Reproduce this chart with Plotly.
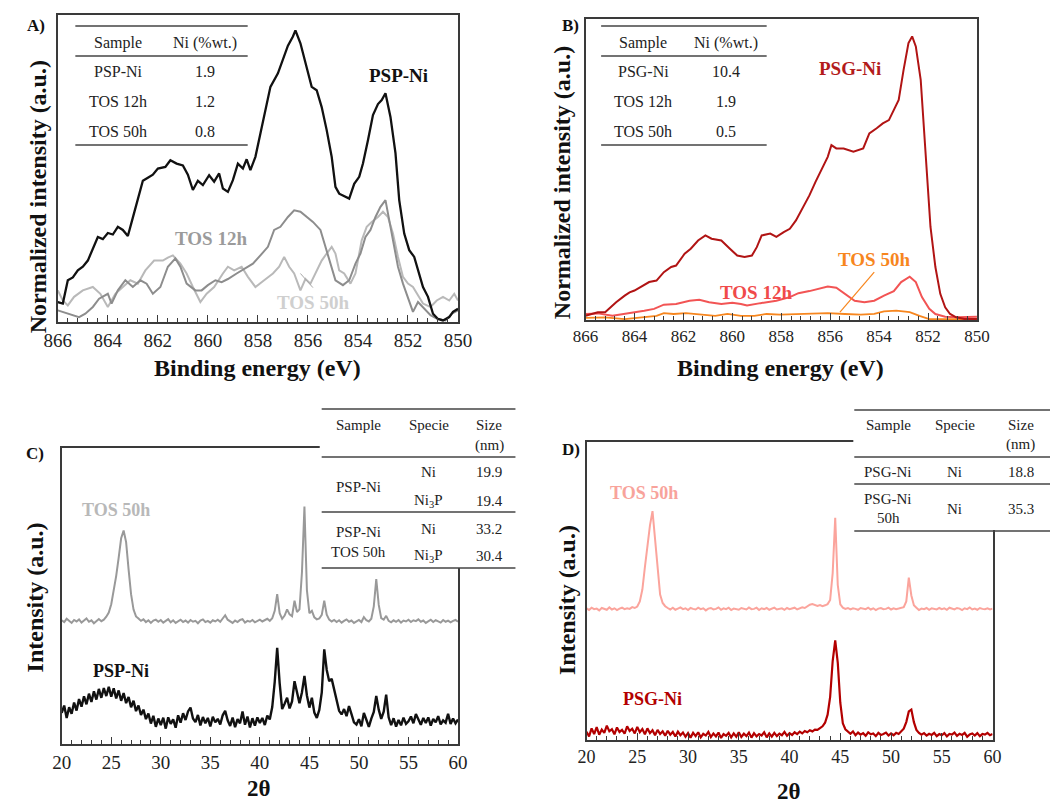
import plotly.graph_objects as go

W, H = 1064, 806
SERIF = "Liberation Serif, Times New Roman, serif"

# ---------------- Panel A (XPS, PSP-Ni) ----------------
A_psp_x = [866.0, 865.8, 865.6, 865.4, 865.2, 865.0, 864.8, 864.6, 864.4, 864.2, 864.0, 863.8, 863.6, 863.4, 863.2, 863.0,
           862.8, 862.6, 862.4, 862.2, 862.0, 861.7, 861.5, 861.25, 861.0, 860.8, 860.6, 860.4, 860.2, 859.95, 859.75,
           859.55, 859.4, 859.2, 859.0, 858.8, 858.6, 858.45, 858.3, 858.1, 857.9, 857.7, 857.5, 857.2, 857.0, 856.8,
           856.6, 856.5, 856.3, 856.05, 855.85, 855.65, 855.45, 855.25, 855.05, 854.9, 854.75, 854.35, 854.15, 853.95,
           853.8, 853.6, 853.4, 853.2, 853.05, 852.9, 852.7, 852.5, 852.35, 852.15, 851.95, 851.75, 851.6, 851.4, 851.2,
           851.0, 850.8, 850.6, 850.35, 850.2, 850.0]
A_psp_y = [6.5, 6, 13.6, 14.5, 16.8, 18, 20, 24, 27.7, 27, 29, 28.5, 31, 30, 28, 34, 40, 46, 47, 48, 50, 50.5, 52.7, 51.6,
           51, 48, 43, 46, 44.6, 47.8, 45.7, 48.4, 43.5, 42.4, 46.2, 51.6, 50, 53, 49.5, 53.8, 61.4, 69, 76.6, 81, 85.3,
           90, 93, 95, 90.8, 83, 76.6, 75.5, 70, 62.5, 53.8, 44, 41.8, 40.2, 45, 47.3, 51.6, 59.2, 67.4, 71, 72.3, 74.5,
           66.8, 55, 39.7, 28.8, 23.4, 21.2, 16.8, 11.4, 8.2, 2.7, 1, 0.5, 1.6, 3.3, 4.3]
A_12_x = [866.0, 865.6, 865.15, 864.9, 864.6, 864.35, 864.0, 863.85, 863.6, 863.3, 863.0, 862.7, 862.45, 862.2, 861.9,
          861.6, 861.3, 861.1, 860.85, 860.5, 860.25, 860.0, 859.7, 859.45, 859.2, 858.85, 858.55, 858.2, 857.9, 857.6,
          857.35, 857.1, 856.8, 856.55, 856.3, 856.05, 855.8, 855.5, 855.25, 855.05, 854.9, 854.6, 854.35, 854.1, 853.9,
          853.7, 853.5, 853.3, 853.1, 852.9, 852.8, 852.6, 852.4, 852.2, 852.0, 851.8, 851.6, 851.4, 851.1, 850.85,
          850.5, 850.25, 850.0]
A_12_y = [3.8, 2.7, 1.6, 2.7, 4.9, 7.6, 9.2, 6, 10.3, 13.6, 11.4, 13.6, 12.5, 9.2, 11.4, 18, 20.7, 18, 12.5, 10.3, 10.3,
          12, 13.6, 13, 14, 15.8, 17.4, 19, 21.7, 24.5, 30, 31, 34.2, 36.4, 35.9, 34.2, 32.6, 30, 23.4, 18, 13.6, 12,
          13.6, 19, 22.3, 27.7, 30, 34.2, 37.5, 39.7, 35.3, 26.6, 18, 12.5, 7.6, 3.3, 6.5, 4.9, 2.2, 1.1, 0.5, 2.7, 3.8]
A_50_x = [866.0, 865.8, 865.6, 865.35, 865.0, 864.6, 864.3, 864.0, 863.7, 863.4, 863.1, 862.8, 862.5, 862.15, 861.8,
          861.6, 861.4, 861.1, 860.85, 860.6, 860.3, 860.05, 859.75, 859.4, 859.2, 858.95, 858.65, 858.4, 858.1, 857.75,
          857.4, 857.15, 856.95, 856.75, 856.55, 856.3, 856.1, 855.9, 855.7, 855.45, 855.25, 855.05, 854.9, 854.75,
          854.55, 854.3, 854.1, 853.85, 853.65, 853.45, 853.2, 853.0, 852.8, 852.6, 852.4, 852.2, 852.0, 851.8, 851.6,
          851.4, 851.1, 850.85, 850.6, 850.35, 850.15, 850.0]
A_50_y = [10.3, 7, 5.4, 8.2, 10.3, 11.4, 9.2, 4.9, 9.2, 11.4, 13.6, 12.5, 16.8, 20, 20, 21, 21.7, 19, 15.8, 11.4, 6.5,
          9.2, 11.4, 15.8, 18, 16.8, 18, 14.7, 11.4, 13.6, 15.8, 18, 21.2, 18, 15.8, 10.3, 14, 12.5, 15.8, 20, 22.3,
          24.5, 22.3, 16.8, 15.8, 12.5, 15.8, 26.6, 31, 32.6, 34.2, 35.9, 34.2, 28.8, 21.2, 14.7, 12.5, 11.4, 8.7, 6,
          4.9, 7, 8.2, 7, 9.2, 7]

# ---------------- Panel B (XPS, PSG-Ni) ----------------
B_psg_x = [866.0, 865.75, 865.5, 865.2, 865.0, 864.75, 864.4, 864.2, 864.0, 863.75, 863.4, 863.1, 862.8, 862.5, 862.3,
           861.95, 861.7, 861.4, 861.1, 860.85, 860.45, 860.1, 859.8, 859.5, 859.2, 859.0, 858.8, 858.45, 858.2, 857.9,
           857.65, 857.4, 857.1, 856.85, 856.6, 856.3, 856.1, 855.95, 855.75, 855.45, 855.05, 854.65, 854.4, 854.1,
           853.85, 853.6, 853.4, 853.2, 853.0, 852.8, 852.65, 852.5, 852.3, 852.1, 851.9, 851.7, 851.5, 851.3, 851.1,
           850.85, 850.5, 850.0]
B_psg_y = [1.4, 2, 2.6, 2.6, 4.2, 5.9, 8.1, 9.2, 9.8, 10.9, 12.6, 13.1, 15.9, 17.6, 18.1, 22, 23.7, 26.4, 28.1, 27, 26.4,
           23.7, 21.4, 20.9, 21.4, 24.2, 28.1, 28.7, 27.6, 29.2, 30.3, 33.1, 37.6, 41.4, 45.9, 50.9, 54.2, 58.1, 57, 57,
           55.9, 57, 62, 63.7, 65.3, 66.4, 69.8, 73.1, 83.1, 92, 94.2, 90.9, 79.8, 56.4, 30.9, 17.6, 8.7, 4.2, 2, 0.9,
           0.3, 0.3]
B_12_x = [866.0, 865.5, 864.9, 864.4, 864.0, 863.6, 863.2, 862.8, 862.3, 861.75, 861.35, 860.95, 860.45, 860.0, 859.65,
          859.4, 858.85, 858.2, 857.65, 857.3, 856.85, 856.45, 856.1, 855.75, 855.4, 855.0, 854.6, 854.2, 853.8, 853.4,
          853.1, 852.75, 852.5, 852.25, 851.95, 851.7, 851.3, 850.8, 850.0]
B_12_y = [2, 2.2, 1.4, 2, 2.6, 3.1, 3.7, 5.1, 5.3, 6.4, 6.7, 5.9, 5.3, 5.7, 5.3, 4.8, 5.6, 6.4, 7.6, 8.9, 9.6, 10.3, 11.1,
          10.7, 8.7, 6.4, 5.9, 6.4, 8.1, 9.6, 12.6, 14.4, 12.6, 7.6, 3.7, 2, 1.1, 0.9, 1.1]
B_50_x = [866.0, 865.2, 864.4, 863.6, 863.1, 862.8, 862.4, 861.9, 861.2, 860.7, 860.2, 859.65, 859.1, 858.6, 858.05,
          857.4, 856.75, 856.1, 855.4, 854.75, 854.2, 853.8, 853.3, 852.75, 852.35, 851.95, 851.0, 850.0]
B_50_y = [0.7, 0.9, 0.3, 0.9, 1.4, 2.3, 2, 2.3, 1.8, 1.4, 2, 1.4, 1.4, 2, 1.8, 2, 2.3, 2.3, 2, 1.8, 2, 2.9, 3.1, 2.6, 1.4,
          0.3, 0.3, 0.3]

# ---------------- Panels C, D (XRD, 2-theta 20..60 step 0.25) ----------------
XRD_START, XRD_STEP = 20.0, 0.25
C_50_y = [41.8, 41.2, 42.3, 41.5, 40.9, 41.9, 41.4, 42.1, 41.0, 41.7, 42.4, 41.3, 41.8, 40.8, 41.6, 42.2, 41.5, 42.0, 43.0, 44.4,
          47.2, 51.5, 56.8, 63.0, 69.5, 72.1, 68.2, 59.0, 50.6, 45.4, 43.1, 42.4, 41.6, 42.1, 41.2, 41.8, 40.9, 41.7, 42.0, 41.3,
          41.9, 41.0, 41.6, 42.2, 41.1, 41.8, 40.9, 41.5, 42.0, 41.2, 41.7, 41.0, 41.9, 41.3, 41.6, 40.8, 41.7, 42.1, 41.2, 41.6,
          41.0, 41.8, 41.4, 42.0, 41.3, 42.4, 43.5, 42.0, 41.4, 40.9, 41.7, 41.2, 41.9, 42.2, 41.0, 41.6, 41.3, 41.9, 41.1, 41.7,
          42.0, 41.4, 41.8, 42.3, 41.6, 42.5, 45.0, 50.6, 44.2, 42.3, 43.4, 45.5, 43.8, 43.2, 48.4, 44.6, 45.5, 58.0, 80.2, 52.0,
          44.2, 45.0, 42.8, 42.1, 42.4, 43.6, 48.4, 43.7, 42.0, 41.4, 41.9, 41.2, 41.8, 41.0, 41.6, 42.1, 41.3, 41.7, 40.9, 41.5,
          41.9, 41.2, 42.9, 41.8, 41.4, 42.3, 46.5, 55.7, 47.0, 42.5, 42.0, 43.3, 41.6, 41.1, 41.8, 41.3, 41.9, 41.0, 41.7, 41.4,
          42.0, 41.2, 41.8, 41.5, 42.1, 41.3, 41.7, 40.9, 41.6, 42.0, 41.2, 41.8, 41.4, 41.0, 41.9, 41.3, 41.7, 41.1, 41.6, 41.9,
          41.3]
C_psp_y = [10.5, 13.0, 8.8, 12.4, 10.2, 14.0, 11.3, 15.2, 12.6, 16.1, 13.4, 17.0, 14.2, 17.8, 15.0, 18.6, 15.6, 18.9, 16.2, 19.3,
           16.0, 18.8, 15.4, 18.1, 14.6, 17.2, 13.8, 15.9, 12.4, 14.6, 11.1, 13.0, 9.8, 11.6, 8.4, 10.3, 6.9, 9.5, 5.8, 8.6,
           6.4, 8.9, 5.2, 9.0, 6.8, 8.3, 5.5, 9.7, 7.2, 10.4, 8.1, 11.0, 12.3, 8.6, 7.4, 9.8, 6.3, 9.1, 7.0, 8.8,
           5.9, 9.2, 7.3, 8.5, 6.6, 9.7, 11.2, 8.0, 6.1, 8.9, 5.7, 8.4, 7.0, 11.0, 6.5, 9.3, 5.6, 8.7, 6.2, 9.0,
           7.1, 8.8, 6.4, 9.6, 8.3, 12.5, 21.0, 32.5, 20.5, 11.8, 13.6, 15.6, 12.0, 14.4, 21.2, 17.0, 13.8, 17.5, 23.0, 16.4,
           12.3, 15.6, 10.6, 8.8, 11.5, 17.4, 32.0, 25.0, 21.2, 22.0, 18.3, 14.5, 11.2, 10.0, 11.8, 9.4, 12.8, 10.1, 7.3, 6.6,
           8.4, 6.0, 10.5, 8.2, 5.8, 8.6, 10.8, 16.2, 11.6, 8.5, 10.9, 16.7, 9.0, 6.4, 8.7, 5.9, 8.1, 6.3, 8.9, 6.8,
           7.7, 9.3, 7.0, 10.1, 8.2, 6.5, 8.8, 7.1, 9.0, 6.2, 8.5, 7.3, 9.4, 6.6, 8.0, 7.2, 10.2, 6.8, 8.6, 7.0,
           8.3]
D_50_y = [44.2, 43.6, 44.4, 43.9, 44.1, 43.5, 44.3, 44.0, 43.7, 44.5, 43.8, 44.2, 43.6, 44.1, 44.4, 43.9, 44.2, 44.0, 44.6, 44.3,
          44.8, 46.5, 50.5, 58.0, 66.0, 72.0, 76.8, 67.0, 55.9, 48.8, 46.0, 44.9, 44.3, 43.8, 44.4, 43.7, 44.1, 44.5, 43.9, 44.2,
          43.6, 44.3, 44.0, 43.8, 44.4, 43.9, 44.2, 43.5, 44.1, 44.3, 43.8, 44.0, 44.5, 43.7, 44.2, 43.9, 44.4, 43.6, 44.1, 44.0,
          43.7, 44.3, 44.1, 43.8, 44.5, 43.9, 44.0, 44.4, 43.6, 44.2, 43.9, 44.3, 43.7, 44.1, 44.4, 43.8, 44.0, 44.2, 43.7, 44.3,
          43.9, 44.2, 44.4, 43.8, 44.1, 44.5, 44.3, 44.8, 45.4, 45.6, 45.2, 45.0, 45.3, 44.9, 45.2, 45.6, 47.0, 56.0, 74.6, 52.0,
          45.5, 44.4, 44.0, 44.3, 43.8, 44.2, 44.0, 43.7, 44.3, 44.1, 43.9, 44.4, 43.8, 44.2, 43.6, 44.1, 44.3, 43.9, 44.0, 44.4,
          43.8, 44.2, 43.9, 44.1, 44.3, 44.6, 46.5, 54.5, 48.5, 45.2, 44.4, 43.6, 44.1, 43.9, 44.3, 43.7, 44.2, 44.0, 43.8, 44.3,
          43.9, 44.2, 43.7, 44.4, 44.0, 43.8, 44.3, 44.1, 43.6, 44.2, 43.9, 44.5, 43.8, 44.1, 43.7, 44.3, 44.0, 43.9, 44.2, 43.8,
          44.1]
D_psg_y = [2.8, 1.2, 3.9, 2.0, 4.3, 1.8, 3.5, 2.4, 4.8, 2.9, 3.6, 1.9, 4.2, 2.7, 3.4, 2.1, 4.6, 3.0, 3.8, 2.2,
           4.4, 2.6, 3.7, 1.9, 3.9, 2.3, 3.3, 1.6, 3.4, 2.0, 2.9, 1.4, 3.1, 1.8, 2.7, 1.2, 2.8, 1.6, 2.5, 1.1,
           2.3, 0.8, 2.4, 1.3, 2.6, 0.9, 2.1, 1.5, 2.7, 1.0, 2.2, 1.2, 2.5, 0.7, 2.0, 1.4, 2.4, 0.9, 2.2, 1.1,
           2.6, 1.0, 2.1, 1.3, 2.5, 0.8, 2.3, 1.2, 2.0, 1.5, 2.6, 0.9, 2.2, 1.1, 2.4, 1.3, 2.1, 1.6, 2.7, 1.4,
           2.3, 1.7, 2.6, 2.0, 2.8, 2.2, 3.0, 2.6, 3.3, 2.9, 3.5, 3.4, 4.0, 4.6, 5.8, 8.5, 14.5, 26.5, 33.4, 26.0,
           12.5, 5.6, 3.6, 2.7, 2.1, 2.9, 1.6, 2.5, 1.8, 2.3, 1.4, 2.6, 1.9, 2.2, 1.3, 2.4, 1.7, 2.0, 2.5, 1.5,
           2.2, 1.6, 2.4, 2.0, 2.9, 3.8, 6.0, 9.6, 10.2, 6.0, 3.4, 2.4, 1.8, 2.3, 1.5, 2.1, 1.7, 2.4, 1.3, 2.0,
           1.6, 2.3, 1.2, 2.0, 1.8, 2.5, 1.4, 2.1, 1.7, 2.4, 1.1, 1.9, 2.2, 1.5, 2.3, 1.3, 2.0, 1.8, 2.4, 1.6,
           2.0]

XPS_TICKS = [866, 864, 862, 860, 858, 856, 854, 852, 850]
XRD_TICKS = [20, 25, 30, 35, 40, 45, 50, 55, 60]

TABLE_A_rows = [["PSP-Ni", "1.9"], ["TOS 12h", "1.2"], ["TOS 50h", "0.8"]]
TABLE_B_rows = [["PSG-Ni", "10.4"], ["TOS 12h", "1.9"], ["TOS 50h", "0.5"]]


def xrd_x(ys):
    return [XRD_START + XRD_STEP * i for i in range(len(ys))]


def px(x):
    return x / W


def py(y):
    return 1 - y / H


fig = go.Figure()

def line(xs, ys, color, width, xa, ya):
    fig.add_trace(go.Scatter(x=xs, y=ys, mode="lines", line=dict(color=color, width=width),
                             xaxis=xa, yaxis=ya, showlegend=False, hoverinfo="skip"))

# A
line(A_50_x, A_50_y, "#b9b9b9", 2, "x", "y")
line(A_12_x, A_12_y, "#8d8d8d", 2, "x", "y")
line(A_psp_x, A_psp_y, "#111111", 2.3, "x", "y")
# B
line(B_50_x, B_50_y, "#f7861e", 1.8, "x2", "y2")
line(B_12_x, B_12_y, "#f25454", 2, "x2", "y2")
line(B_psg_x, B_psg_y, "#b11414", 2, "x2", "y2")
# C
line(xrd_x(C_50_y), C_50_y, "#999999", 2, "x3", "y3")
line(xrd_x(C_psp_y), C_psp_y, "#111111", 2.4, "x3", "y3")
# D
line(xrd_x(D_50_y), D_50_y, "#fba49c", 2, "x4", "y4")
line(xrd_x(D_psg_y), D_psg_y, "#b30000", 2.2, "x4", "y4")

AXC = "#3a3a3a"


def xaxis(dom, rng, mdtick, anchor, fsize, vals):
    return dict(domain=[px(dom[0]), px(dom[1])], range=rng, anchor=anchor, showline=True, mirror=True,
                linecolor=AXC, linewidth=1.5, ticks="inside", ticklen=7, tickwidth=1.2, tickcolor=AXC,
                tickmode="array", tickvals=vals, ticktext=[str(v) for v in vals],
                minor=dict(ticks="inside", ticklen=4, tickwidth=1, tickcolor=AXC, dtick=mdtick,
                           tick0=min(rng)),
                tickfont=dict(family=SERIF, size=fsize, color="#222222"), showgrid=False, zeroline=False,
                ticklabelstandoff=0, fixedrange=True)


def yaxis(dom, anchor):
    return dict(domain=[py(dom[1]), py(dom[0])], range=[0, 100], anchor=anchor, showline=True, mirror=True,
                linecolor=AXC, linewidth=1.5, ticks="", showticklabels=False, showgrid=False, zeroline=False,
                fixedrange=True)


fig.update_layout(
    width=W, height=H, margin=dict(l=0, r=0, t=0, b=0), paper_bgcolor="white", plot_bgcolor="white",
    font=dict(family=SERIF),
    xaxis=xaxis([45, 456], [866, 850], 0.4, "y", 19, XPS_TICKS),
    yaxis=yaxis([15, 322], "x"),
    xaxis2=xaxis([587, 989], [866, 850], 0.4, "y2", 17, XPS_TICKS),
    yaxis2=yaxis([19, 320], "x2"),
    xaxis3=xaxis([49, 456], [20, 60], 1, "y3", 19, XRD_TICKS),
    yaxis3=yaxis([448, 744], "x3"),
    xaxis4=xaxis([588, 1005], [20, 60], 1, "y4", 18, XRD_TICKS),
    yaxis4=yaxis([442, 740], "x4"),
)

shapes = []
annotations = []


def hline(x0, x1, y, color="#444444", w=1.5):
    shapes.append(dict(type="line", xref="paper", yref="paper", x0=px(x0), x1=px(x1), y0=py(y), y1=py(y),
                       line=dict(color=color, width=w), layer="above"))


def whiterect(x0, x1, y0, y1):
    shapes.append(dict(type="rect", xref="paper", yref="paper", x0=px(x0), x1=px(x1), y0=py(y1), y1=py(y0),
                       fillcolor="white", line=dict(width=0), layer="above"))


def text(x, y, t, size=16, color="#222222", bold=False, angle=0):
    annotations.append(dict(xref="paper", yref="paper", x=px(x), y=py(y), text=("<b>%s</b>" % t) if bold else t,
                            showarrow=False, xanchor="center", yanchor="middle", textangle=angle,
                            font=dict(family=SERIF, size=size, color=color)))


# white backgrounds of the C and D tables (hide plot frame behind them)
whiterect(314, 520, 402, 568)
whiterect(862, 1064, 404, 530)

# Table A
for yy in (26, 56, 145):
    hline(63, 240, yy)
text(107, 43, "Sample"); text(196, 43, "Ni (%wt.)")
for i, (s, v) in enumerate(TABLE_A_rows):
    text(107, 72 + 29.5 * i, s); text(196, 72 + 29.5 * i, v)
# Table B
for yy in (26, 56, 145):
    hline(603, 773, yy)
text(646, 43, "Sample"); text(731, 43, "Ni (%wt.)")
for i, (s, v) in enumerate(TABLE_B_rows):
    text(646, 72 + 29.5 * i, s); text(731, 72 + 29.5 * i, v)

# Table C
for yy in (409, 457, 512, 568):
    hline(316, 515, yy)
fs = 15
text(354, 425, "Sample", fs); text(426, 425, "Specie", fs); text(488, 425, "Size", fs); text(488, 445, "(nm)", fs)
text(354, 487, "PSP-Ni", fs)
text(426, 472, "Ni", fs); text(488, 472, "19.9", fs)
text(426, 501, "Ni<sub>3</sub>P", fs); text(488, 501, "19.4", fs)
text(354, 532, "PSP-Ni", fs); text(354, 552, "TOS 50h", fs)
text(426, 529, "Ni", fs); text(488, 529, "33.2", fs)
text(426, 556, "Ni<sub>3</sub>P", fs); text(488, 556, "30.4", fs)

# Table D
for yy in (410, 457, 484, 531):
    hline(863, 1064, yy)
text(898, 425, "Sample", fs); text(966, 425, "Specie", fs); text(1034, 425, "Size", fs); text(1034, 444, "(nm)", fs)
text(898, 472, "PSG-Ni", fs); text(966, 472, "Ni", fs); text(1034, 472, "18.8", fs)
text(898, 499, "PSG-Ni", fs); text(898, 518, "50h", fs); text(966, 509, "Ni", fs); text(1034, 509, "35.3", fs)

# leader lines (data coords)
shapes.append(dict(type="line", xref="x", yref="y", x0=856.3, y0=15.8, x1=855.8, y1=11.2,
                   line=dict(color="#a8a8a8", width=1)))
shapes.append(dict(type="line", xref="x2", yref="y2", x0=854.2, y0=15.9, x1=855.6, y1=2.6,
                   line=dict(color="#f7861e", width=1.2)))

# panel letters
text(23, 25, "A)", 17, "#111111", True)
text(572, 25, "B)", 17, "#111111", True)
text(22, 453, "C)", 17, "#111111", True)
text(572, 449, "D)", 17, "#111111", True)

# curve labels
text(395, 75, "PSP-Ni", 19, "#111111", True)
text(202, 238, "TOS 12h", 19, "#9b9b9b", True)
text(307, 303, "TOS 50h", 19, "#cfcfcf", True)
text(859, 69, "PSG-Ni", 19, "#b31b1b", True)
text(762, 293, "TOS 12h", 19, "#f04a4a", True)
text(883, 259, "TOS 50h", 19, "#f7861e", True)
text(105, 510, "TOS 50h", 18, "#b8b8b8", True)
text(110, 671, "PSP-Ni", 18, "#111111", True)
text(647, 493, "TOS 50h", 18, "#f8a39b", True)
text(656, 699, "PSG-Ni", 18, "#b30000", True)

# axis titles
text(25, 197, "Normalized intensity (a.u.)", 24, "#111111", True, -90)
text(250, 368, "Binding energy (eV)", 24, "#111111", True)
text(563, 183, "Normalized intensity (a.u.)", 24, "#111111", True, -90)
text(787, 368, "Binding energy (eV)", 24, "#111111", True)
text(22, 597, "Intensity (a.u.)", 24, "#111111", True, -90)
text(252, 788, "2θ", 23, "#111111", True)
text(568, 600, "Intensity (a.u.)", 24, "#111111", True, -90)
text(796, 791, "2θ", 23, "#111111", True)

fig.update_layout(shapes=shapes, annotations=annotations)
fig.write_html("out.html")
